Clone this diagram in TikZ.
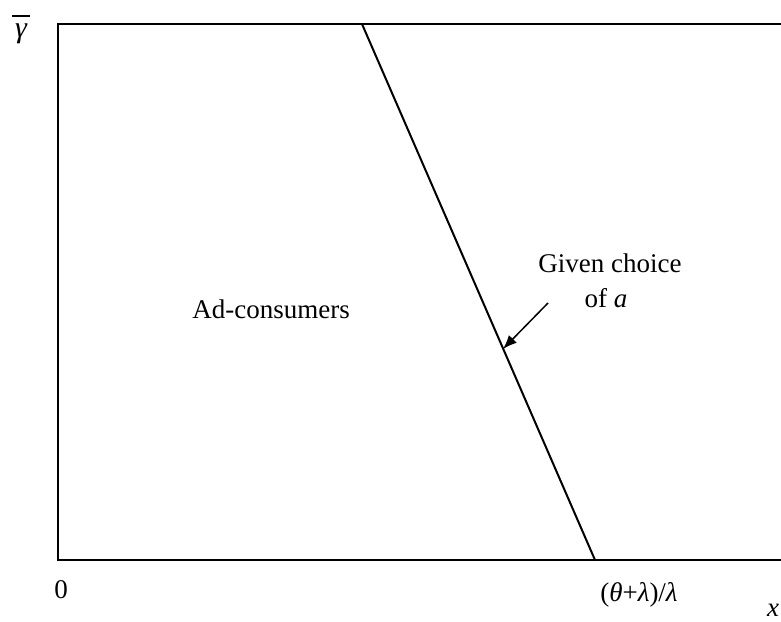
\documentclass[tikz,border=0pt]{standalone}
\usepackage{fontspec}
\setmainfont{Liberation Serif}
\usetikzlibrary{arrows.meta}
\begin{document}
\begin{tikzpicture}[x=1pt,y=-1pt,
  lbl/.style={inner sep=0pt,anchor=base,font=\fontsize{27}{30}\selectfont},
  frame/.style={line width=2.8pt},
  curve/.style={line width=2pt},
  pointer/.style={line width=1.5pt,-{Latex[length=14pt,width=11pt]}}]
\useasboundingbox (0,0) rectangle (781,621);
% axes box
\draw[frame] (58,24) rectangle (782,560);
% boundary for a given choice of a
\coordinate (top) at (362,24);
\coordinate (bot) at (595,560);
\draw[curve] (top) -- (bot);
% labels
\node[lbl,font=\fontsize{30}{32}\selectfont] (gam) at (21,37) {\itshape γ};
\draw[line width=1.2pt] (12,16) -- (30,16);
\node[lbl] (zero) at (61,598) {0};
\node[lbl] (xint) at (639,601) {(\textit{θ}+\textit{λ})/\textit{λ}};
\node[lbl] (xlab) at (773,616) {\textit{x}};
\node[lbl,anchor=base east] (ad) at (350,318) {Ad-consumers};
\node[lbl] (given) at (610,272) {Given choice};
\node[lbl] (ofa) at (606,307) {of \textit{a}};
\coordinate (tip) at (503,349);
\coordinate (tail) at (548,303);
\draw[pointer] (tail) -- (tip);
\end{tikzpicture}
\end{document}
